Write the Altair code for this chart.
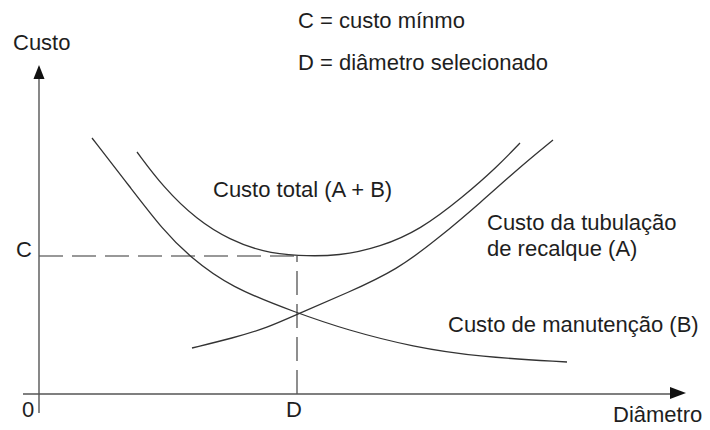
import altair as alt
import pandas as pd

# Curves (x = diameter units, y = cost units)
b_x = [53, 91, 124, 151, 191, 258, 308, 374, 441, 528]
b_y = [256, 207, 164, 137, 107, 81, 64, 47, 37, 32]

a_x = [153, 194, 228, 261, 308, 358, 401, 441, 481, 514]
a_y = [46, 56, 66, 81, 101, 124, 157, 191, 227, 254]

t_x = [98, 124, 158, 191, 224, 258, 301, 341, 381, 424, 458, 481]
t_y = [242, 207, 174, 154, 142, 138, 138, 147, 164, 197, 227, 251]

C_level = 138
D_value = 258

label_text = ["C = custo mínmo", "D = diâmetro selecionado", "Custo", "Custo total (A + B)",
              "Custo da tubulação", "de recalque (A)", "Custo de manutenção (B)", "Diâmetro"]
label_x = [259, 259, -26, 174, 448, 448, 409, 574]
label_y = [366, 324, 344, 197, 164, 138, 62, -28]

tick_text = ["C", "0", "D"]
tick_x = [-15, -11, 255]
tick_y = [137, -23, -23]

curves = pd.DataFrame(
    [{"serie": "B", "ordem": i, "x": x, "y": y} for i, (x, y) in enumerate(zip(b_x, b_y))]
    + [{"serie": "A", "ordem": i, "x": x, "y": y} for i, (x, y) in enumerate(zip(a_x, a_y))]
    + [{"serie": "T", "ordem": i, "x": x, "y": y} for i, (x, y) in enumerate(zip(t_x, t_y))]
)

xs = alt.Scale(domain=[-31, 663], nice=False, zero=False)
ys = alt.Scale(domain=[-32, 386], nice=False, zero=False)

LINE = "#333333"
AXIS = "#555555"
TEXT = "#1e1e1e"
FONT = "Liberation Sans"

lines = alt.Chart(curves).mark_line(
    interpolate="basis", color=LINE, strokeWidth=1.3, clip=False
).encode(
    x=alt.X("x:Q", scale=xs, axis=None),
    y=alt.Y("y:Q", scale=ys, axis=None),
    detail="serie:N",
    order="ordem:Q",
)

axes_df = pd.DataFrame({"x": [0, -16], "y": [-19, 0], "x2": [0, 633], "y2": [315, 0]})
axes = alt.Chart(axes_df).mark_rule(color=AXIS, strokeWidth=1.4).encode(
    x=alt.X("x:Q", scale=xs, axis=None),
    y=alt.Y("y:Q", scale=ys, axis=None),
    x2="x2:Q",
    y2="y2:Q",
)

dash_df = pd.DataFrame({"x": [0, D_value], "y": [C_level, 0], "x2": [D_value, D_value], "y2": [C_level, C_level]})
dashes = alt.Chart(dash_df).mark_rule(color=LINE, strokeWidth=1.1, strokeDash=[24, 9]).encode(
    x=alt.X("x:Q", scale=xs, axis=None),
    y=alt.Y("y:Q", scale=ys, axis=None),
    x2="x2:Q",
    y2="y2:Q",
)

arrow_up = alt.Chart(pd.DataFrame({"x": [0], "y": [322]})).mark_point(
    shape="M0,-0.875L0.69,0.875L-0.69,0.875Z", filled=True, size=256, color="#111111",
    opacity=1, strokeWidth=0
).encode(x=alt.X("x:Q", scale=xs, axis=None), y=alt.Y("y:Q", scale=ys, axis=None))

arrow_right = alt.Chart(pd.DataFrame({"x": [639], "y": [1]})).mark_point(
    shape="M1,0L-1,0.75L-1,-0.75Z", filled=True, size=256, color="#111111",
    opacity=1, strokeWidth=0
).encode(x=alt.X("x:Q", scale=xs, axis=None), y=alt.Y("y:Q", scale=ys, axis=None))

labels = alt.Chart(pd.DataFrame({"t": label_text, "x": label_x, "y": label_y})).mark_text(
    align="left", baseline="alphabetic", font=FONT, fontSize=22, color=TEXT
).encode(x=alt.X("x:Q", scale=xs, axis=None), y=alt.Y("y:Q", scale=ys, axis=None), text="t:N")

ticks = alt.Chart(pd.DataFrame({"t": tick_text, "x": tick_x, "y": tick_y})).mark_text(
    align="center", baseline="alphabetic", font=FONT, fontSize=22, color=TEXT
).encode(x=alt.X("x:Q", scale=xs, axis=None), y=alt.Y("y:Q", scale=ys, axis=None), text="t:N")

chart = alt.layer(dashes, axes, lines, arrow_up, arrow_right, labels, ticks).properties(
    width=694, height=418, padding=0, autosize=alt.AutoSizeParams(type="none"), background="white"
).configure_view(strokeWidth=0)

chart.save("out.html", embed_options={"renderer": "svg", "actions": False})
